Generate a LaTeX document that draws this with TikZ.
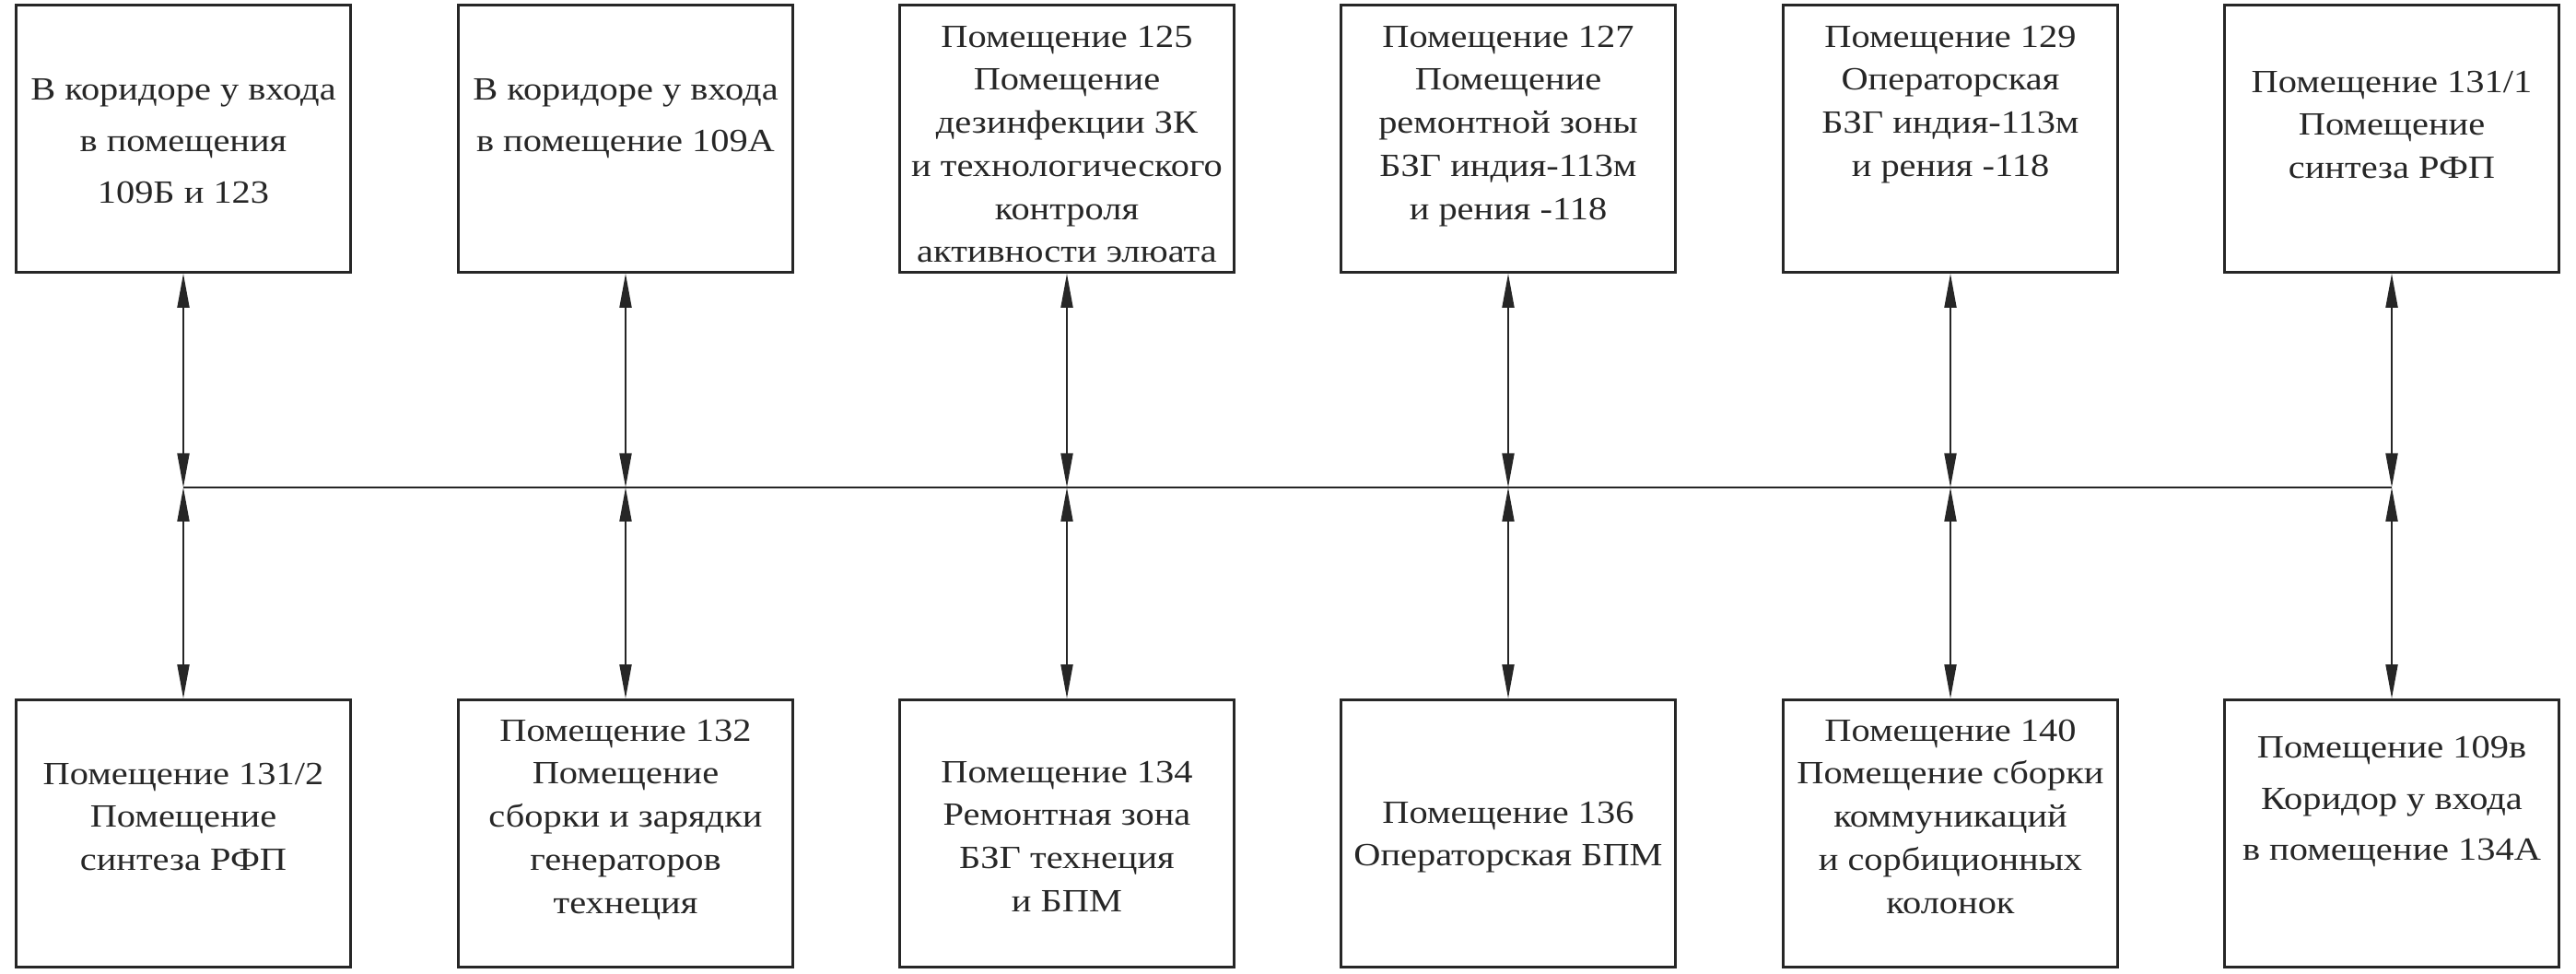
\documentclass[tikz,border=0pt]{standalone}
\usepackage{fontspec}
\setmainfont{Liberation Serif}[FakeStretch=1.15]
\usetikzlibrary{arrows.meta,positioning}

\tikzset{
  room/.style = {draw, line width=0.8pt, minimum width=3.63cm, minimum height=2.9cm, inner sep=0pt},
  roomtext/.style = {align=center, inner sep=0pt, font=\fontsize{10}{13.3}\selectfont},
  widetext/.style = {align=center, inner sep=0pt, font=\fontsize{10}{15.9}\selectfont},
  link/.style = {line width=0.55pt, {Triangle[length=3.7mm,width=1.3mm]}-{Triangle[length=3.7mm,width=1.3mm]}}
}

\begin{document}
\begin{tikzpicture}[color=black!85]
	\useasboundingbox (0,0) rectangle (27.96,10.57);
	% upper row
	\node[room] (r109b) at (1.99,9.065) {};
	\node[room] (r109a) at (6.79,9.065) {};
	\node[room] (r125) at (11.58,9.065) {};
	\node[room] (r127) at (16.37,9.065) {};
	\node[room] (r129) at (21.17,9.065) {};
	\node[room] (r131a) at (25.96,9.065) {};
	\node[widetext, below=0.81cm of r109b.north] (r109b-txt) {В коридоре у входа\\в помещения\\109Б и 123};
	\node[widetext, below=0.81cm of r109a.north] (r109a-txt) {В коридоре у входа\\в помещение 109А};
	\node[roomtext, below=0.23cm of r125.north] (r125-txt) {Помещение 125\\Помещение\\дезинфекции ЗК\\и технологического\\контроля\\активности элюата};
	\node[roomtext, below=0.23cm of r127.north] (r127-txt) {Помещение 127\\Помещение\\ремонтной зоны\\БЗГ индия-113м\\и рения -118};
	\node[roomtext, below=0.23cm of r129.north] (r129-txt) {Помещение 129\\Операторская\\БЗГ индия-113м\\и рения -118};
	\node[roomtext, below=0.72cm of r131a.north] (r131a-txt) {Помещение 131/1\\Помещение\\синтеза РФП};
	% lower row
	\node[room] (r131b) at (1.99,1.525) {};
	\node[room] (r132) at (6.79,1.525) {};
	\node[room] (r134) at (11.58,1.525) {};
	\node[room] (r136) at (16.37,1.525) {};
	\node[room] (r140) at (21.17,1.525) {};
	\node[room] (r109v) at (25.96,1.525) {};
	\node[roomtext, below=0.69cm of r131b.north] (r131b-txt) {Помещение 131/2\\Помещение\\синтеза РФП};
	\node[roomtext, below=0.22cm of r132.north] (r132-txt) {Помещение 132\\Помещение\\сборки и зарядки\\генераторов\\технеция};
	\node[roomtext, below=0.67cm of r134.north] (r134-txt) {Помещение 134\\Ремонтная зона\\БЗГ технеция\\и БПМ};
	\node[roomtext, below=1.11cm of r136.north] (r136-txt) {Помещение 136\\Операторская БПМ};
	\node[roomtext, below=0.22cm of r140.north] (r140-txt) {Помещение 140\\Помещение сборки\\коммуникаций\\и сорбиционных\\колонок};
	\node[widetext, below=0.40cm of r109v.north] (r109v-txt) {Помещение 109в\\Коридор у входа\\в помещение 134А};
	% links through the corridor line
	\foreach \up/\down [count=\i] in {r109b/r131b, r109a/r132, r125/r134, r127/r136, r129/r140, r131a/r109v}{
		\coordinate (bus\i) at (\up.south |- 0,5.28);
		\draw[link] (\up.south) -- (bus\i);
		\draw[link] (bus\i) -- (\down.north);
	}
	\draw[line width=0.8pt] (bus1) -- (bus6);
\end{tikzpicture}
\end{document}
